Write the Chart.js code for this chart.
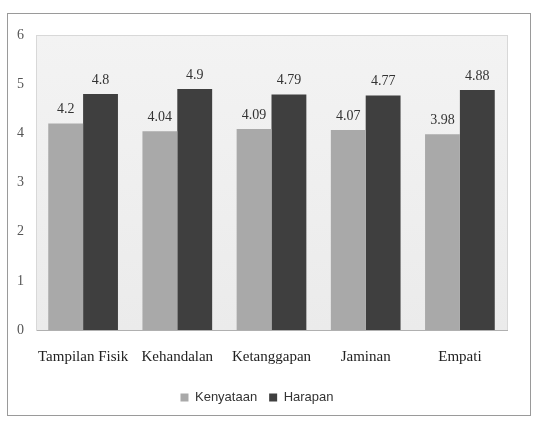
<!DOCTYPE html>
<html>
<head>
<meta charset="utf-8">
<script src="https://cdn.jsdelivr.net/npm/chart.js@4"></script>
<style>
  body { margin: 0; background: #fff; }
  #wrap { width: 538px; height: 421px; }
</style>
</head>
<body>
<div id="wrap"><canvas id="chart" width="538" height="421"></canvas></div>
<script>
const categories = ["Tampilan Fisik", "Kehandalan", "Ketanggapan", "Jaminan", "Empati"];
const kenyataan = [4.2, 4.04, 4.09, 4.07, 3.98];
const harapan = [4.8, 4.9, 4.79, 4.77, 4.88];
const yTicks = [0, 1, 2, 3, 4, 5, 6];

// plot background and outer frame
const framePlugin = {
    id: "frame",
    beforeDraw(chart) {
        const { ctx, chartArea: a } = chart;
        ctx.save();
        ctx.fillStyle = "#fff";
        ctx.fillRect(0, 0, chart.width, chart.height);
        ctx.strokeStyle = "#9a9a9a";
        ctx.lineWidth = 1;
        ctx.strokeRect(7.5, 13.5, 523, 402);
        const g = ctx.createLinearGradient(0, a.top, 0, a.bottom);
        g.addColorStop(0, "#f3f3f3");
        g.addColorStop(1, "#ebebeb");
        ctx.fillStyle = g;
        ctx.fillRect(a.left, a.top, a.right - a.left, a.bottom - a.top);
        ctx.strokeStyle = "#d8d8d8";
        ctx.strokeRect(a.left + 0.5, a.top + 0.5, a.right - a.left, a.bottom - a.top);
        ctx.restore();
    }
};

// value labels above bars
const valueLabels = {
    id: "valueLabels",
    afterDatasetsDraw(chart) {
        const ctx = chart.ctx;
        ctx.save();
        ctx.font = "14px 'Liberation Serif'";
        ctx.fillStyle = "#333";
        ctx.textAlign = "center";
        ctx.textBaseline = "bottom";
        chart.data.datasets.forEach((ds, i) => {
            chart.getDatasetMeta(i).data.forEach((bar, j) => {
                ctx.fillText(String(ds.data[j]), bar.x, bar.y - 7);
            });
        });
        ctx.restore();
    }
};

new Chart(document.getElementById("chart"), {
    type: "bar",
    data: {
        labels: categories,
        datasets: [
            { label: "Kenyataan", data: kenyataan, backgroundColor: "#a9a9a9" },
            { label: "Harapan", data: harapan, backgroundColor: "#3f3f3f" }
        ]
    },
    options: {
        responsive: false,
        animation: false,
        layout: { padding: { left: 7, right: 31, top: 35, bottom: 7 } },
        datasets: { bar: { categoryPercentage: 0.74, barPercentage: 1.0 } },
        scales: {
            x: {
                grid: { display: false, drawTicks: false },
                border: { color: "#b0b0b0" },
                ticks: {
                    color: "#222",
                    font: { family: "Liberation Serif", size: 15 },
                    padding: 18,
                    maxRotation: 0,
                    minRotation: 0,
                    autoSkip: false
                },
                afterFit(s) { s.height = 49; }
            },
            y: {
                min: 0,
                max: 6,
                afterBuildTicks(s) { s.ticks = yTicks.map(v => ({ value: v })); },
                grid: { display: false, drawTicks: false },
                border: { color: "#d8d8d8" },
                ticks: { color: "#555", font: { family: "Liberation Serif", size: 14 }, padding: 12 },
                afterFit(s) { s.width = 29; }
            }
        },
        plugins: {
            legend: {
                position: "bottom",
                labels: {
                    boxWidth: 8,
                    boxHeight: 8,
                    padding: 12,
                    color: "#333",
                    font: { family: "Liberation Sans", size: 13 }
                }
            },
            tooltip: { enabled: false }
        }
    },
    plugins: [framePlugin, valueLabels]
});
</script>
</body>
</html>
